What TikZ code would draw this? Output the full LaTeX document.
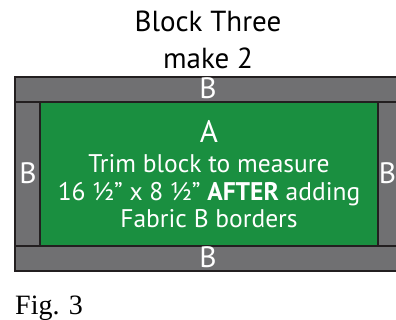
\documentclass[tikz,border=0pt]{standalone}
\usepackage{fontspec}
\setmainfont{Liberation Serif}
\newfontfamily\blockfont{PT Sans}
\definecolor{blockgreen}{RGB}{26,143,64}
\definecolor{bordergray}{RGB}{112,112,114}
\definecolor{edgeline}{RGB}{35,31,32}

\begin{document}
\begin{tikzpicture}[x=1pt,y=-1pt,
  strip/.style={fill=bordergray,draw=edgeline,line width=1.4pt},
  centre/.style={fill=blockgreen,draw=edgeline,line width=1.4pt},
  title/.style={anchor=base,inner sep=0pt,font=\blockfont\fontsize{29}{29}\selectfont},
  blabel/.style={anchor=base,inner sep=0pt,text=white,font=\blockfont\fontsize{29.5}{29.5}\selectfont},
  note/.style={anchor=base,inner sep=0pt,text=white,font=\blockfont\fontsize{25.5}{25.5}\selectfont}]
  \useasboundingbox (0,0) rectangle (396,320);
  \clip (0,0) rectangle (396,320);

  % border strips and centre
  \draw[strip] (15,77) rectangle (403,271);
  \draw[edgeline,line width=1.4pt] (15,102) -- (403,102) (15,246) -- (403,246);
  \draw[centre] (40,102) rectangle (378,246);

  % heading
  \node (blk) [title] at (208,32) {Block Three};
  \node (mk) [title] at (208,69) {make 2};

  % fabric labels
  \node (btop) [blabel] at (208,99) {B};
  \node (bbot) [blabel] at (208,268) {B};
  \node (blft) [blabel] at (28,184) {B};
  \node (brgt) [blabel] at (387.5,184) {B};
  \node (a) [blabel,font=\blockfont\fontsize{31}{31}\selectfont] at (209,143) {A};

  % trimming note
  \node (trim) [note] at (209,173) {Trim block to measure};
  \node (size) [note] at (209,201) {16 ½” x 8 ½” \textbf{AFTER} adding};
  \node (fab) [note] at (209,228) {Fabric B borders};

  \node (fig) [anchor=base west,inner sep=0pt,font=\fontsize{28}{28}\selectfont] at (15,314) {Fig. 3};
\end{tikzpicture}
\end{document}
